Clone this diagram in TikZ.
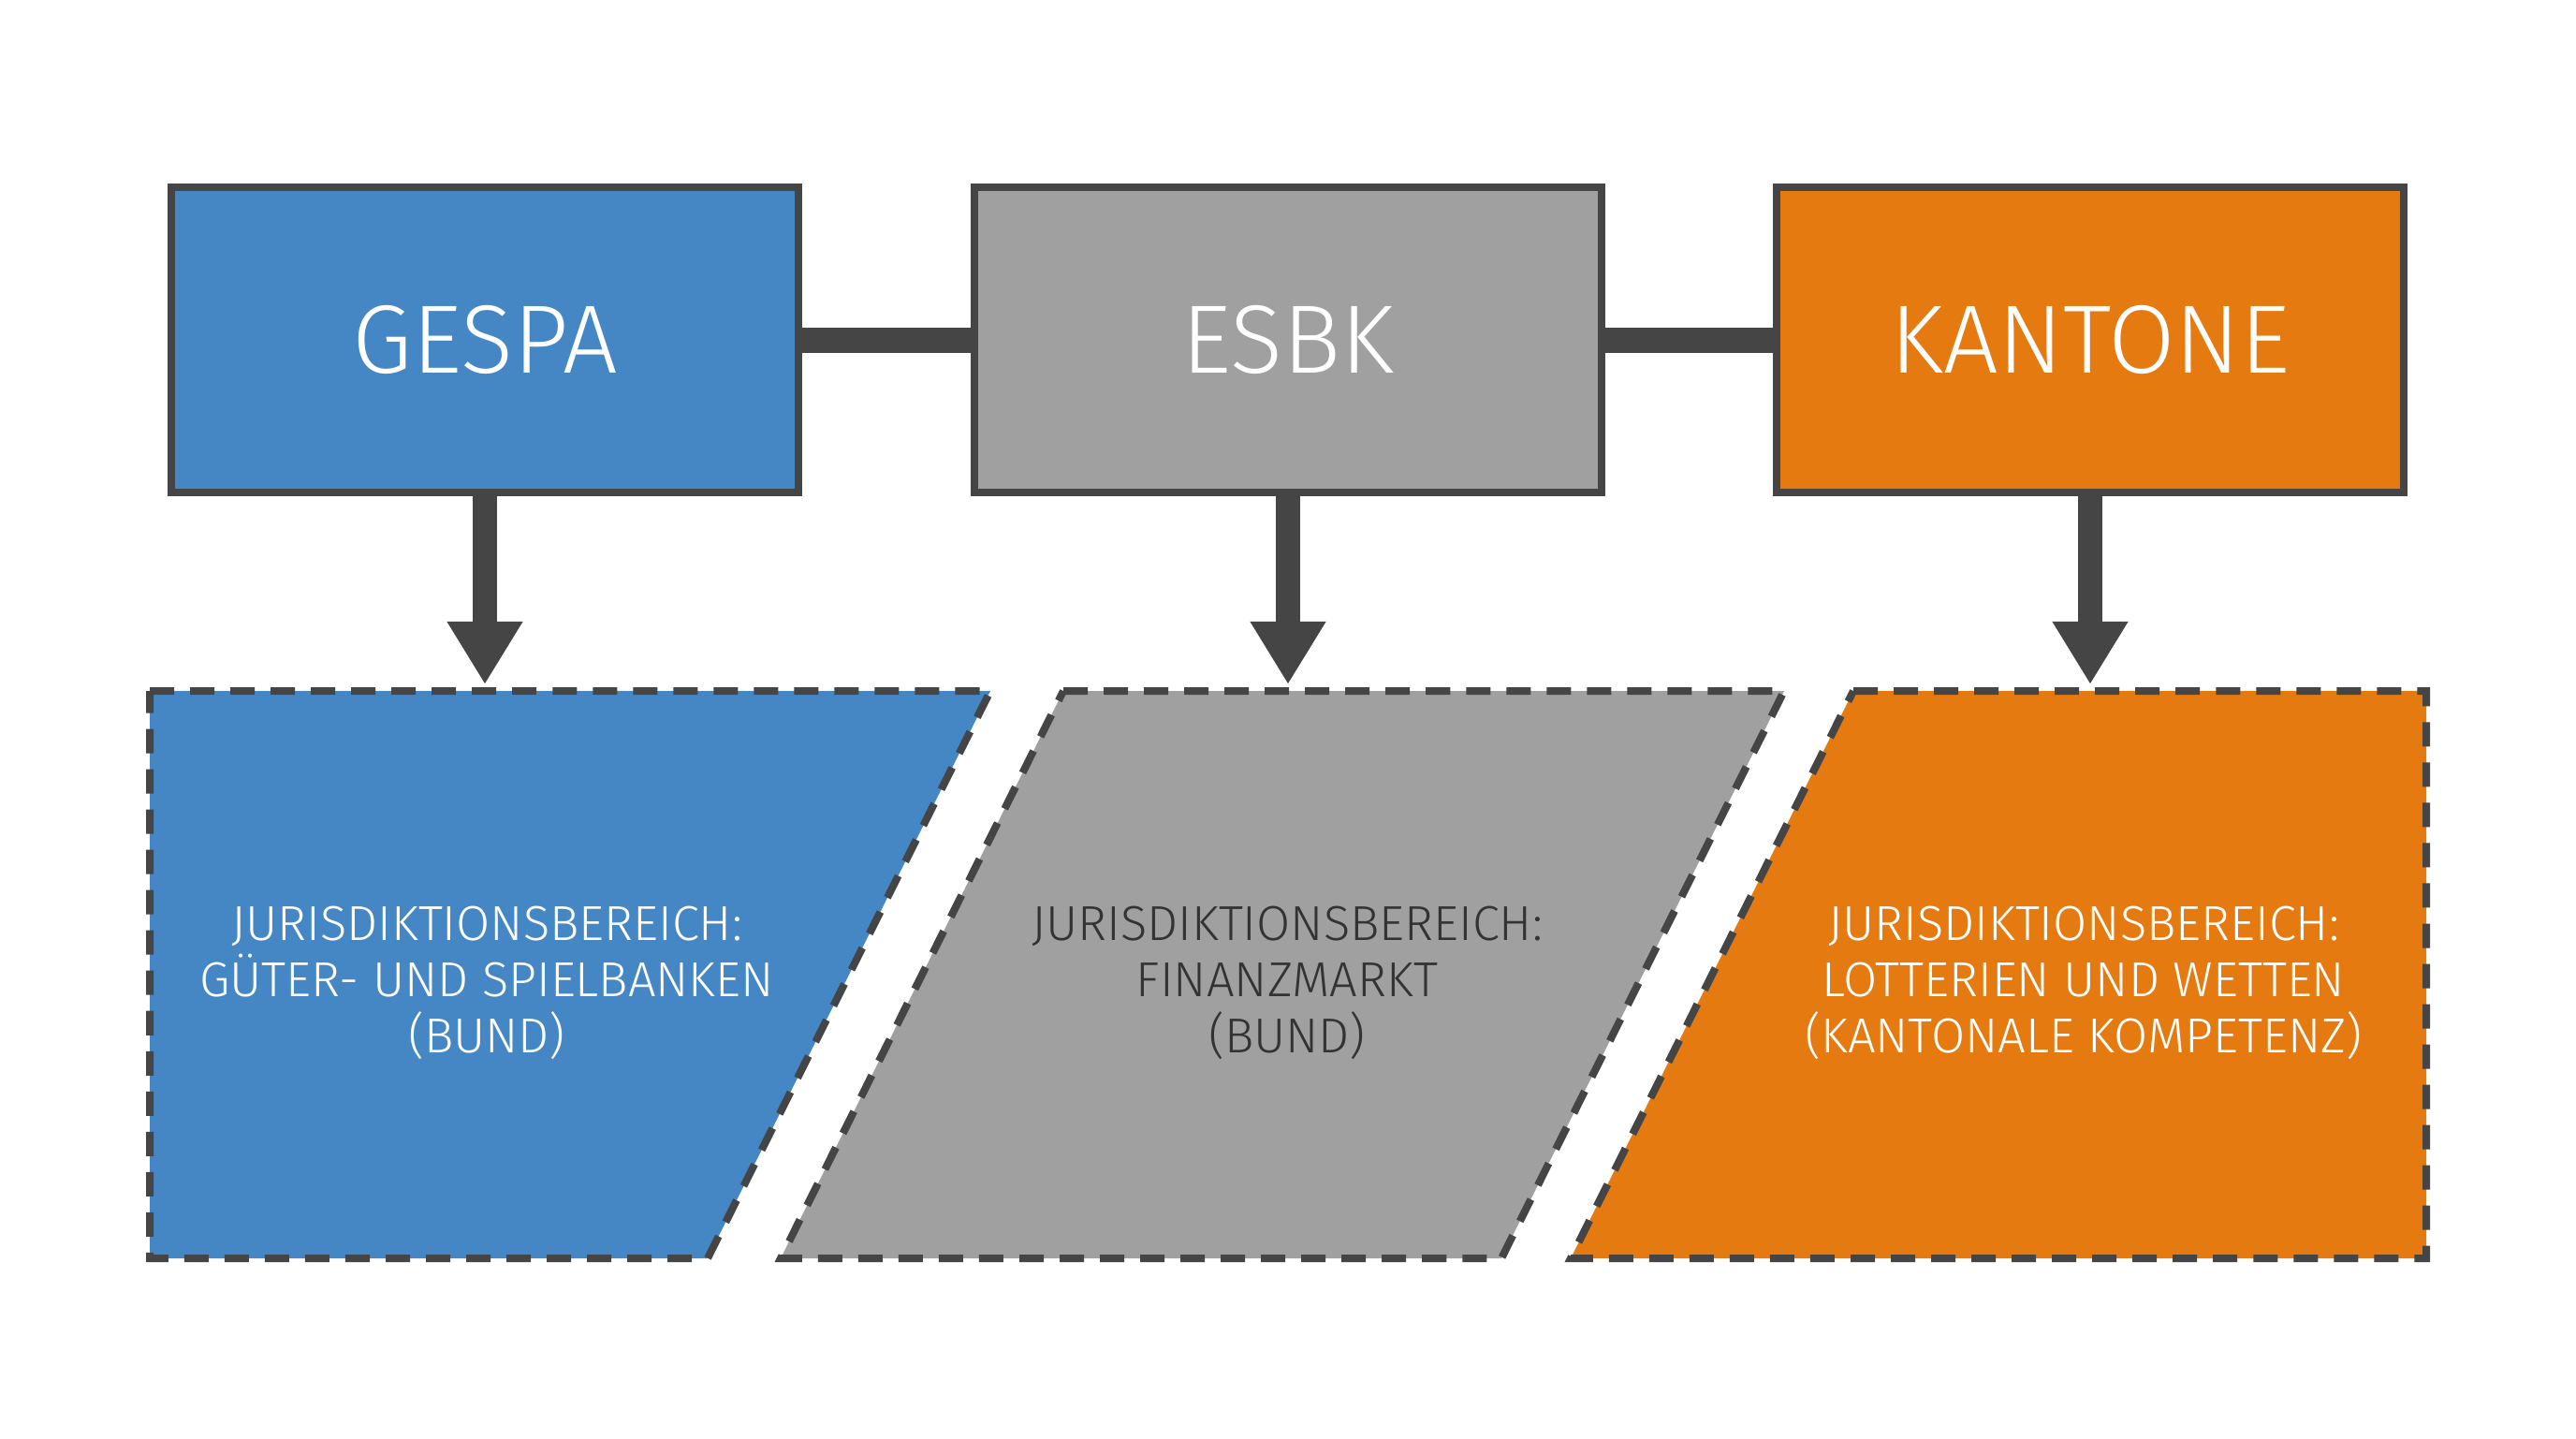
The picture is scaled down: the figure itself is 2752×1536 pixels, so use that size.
\documentclass[tikz,border=0pt]{standalone}
\usepackage{fontspec}
\setmainfont{Fira Sans Light}
\usetikzlibrary{arrows.meta}
\definecolor{gblue}{HTML}{4587C4}
\definecolor{ggrey}{HTML}{A0A0A0}
\definecolor{gorange}{HTML}{E57B10}
\definecolor{gdark}{HTML}{454545}
\definecolor{gtext}{HTML}{333333}
\begin{document}
\begin{tikzpicture}[x=0.01cm, y=-0.01cm,
  main node/.style={rectangle,draw=gdark,line width=0.08cm,minimum width=6.70cm,minimum height=3.25cm,inner sep=0pt,text=white,font=\fontsize{29.5}{34}\selectfont},
  area/.style={draw=gdark,line width=0.08cm,dash pattern=on 0.26cm off 0.17cm},
  area text/.style={align=center,font=\fontsize{14.9}{17}\selectfont},
  link/.style={draw=gdark,line width=0.27cm},
  down/.style={draw=gdark,line width=0.26cm,-{Triangle[width=0.76cm,length=0.67cm]}}]
\useasboundingbox (0,0) rectangle (2752,1536);
\fill[white] (0,0) rectangle (2752,1536);

% top boxes
\node [main node,fill=gblue](gespa) at (518,363) {GESPA};
\node [main node,fill=ggrey](esbk) at (1376,363) {ESBK};
\node [main node,fill=gorange](kantone) at (2233,363) {KANTONE};
\draw [link] (gespa.east) -- (esbk.west);
\draw [link] (esbk.east) -- (kantone.west);

% jurisdiction areas
\path [area,fill=gblue] (160,738) -- (1058,738) -- (756,1344) -- (160,1344) -- cycle;
\path [area,fill=ggrey] (1136,738) -- (1906,738) -- (1604,1344) -- (834,1344) -- cycle;
\path [area,fill=gorange] (1980,738) -- (2592,738) -- (2592,1344) -- (1678,1344) -- cycle;
\coordinate (t1) at (518,731);
\coordinate (t2) at (1376,731);
\coordinate (t3) at (2233,731);
\draw [down] (gespa.south) -- (t1);
\draw [down] (esbk.south) -- (t2);
\draw [down] (kantone.south) -- (t3);

\begin{scope}[every node/.style={area text}]
\node [text=white](j1) at (520,1050) {JURISDIKTIONSBEREICH:\\GÜTER- UND SPIELBANKEN\\(BUND)};
\node [text=gtext](j2) at (1375,1050) {JURISDIKTIONSBEREICH:\\FINANZMARKT\\(BUND)};
\node [text=white](j3) at (2226,1050) {JURISDIKTIONSBEREICH:\\LOTTERIEN UND WETTEN\\(KANTONALE KOMPETENZ)};
\end{scope}
\end{tikzpicture}
\end{document}
